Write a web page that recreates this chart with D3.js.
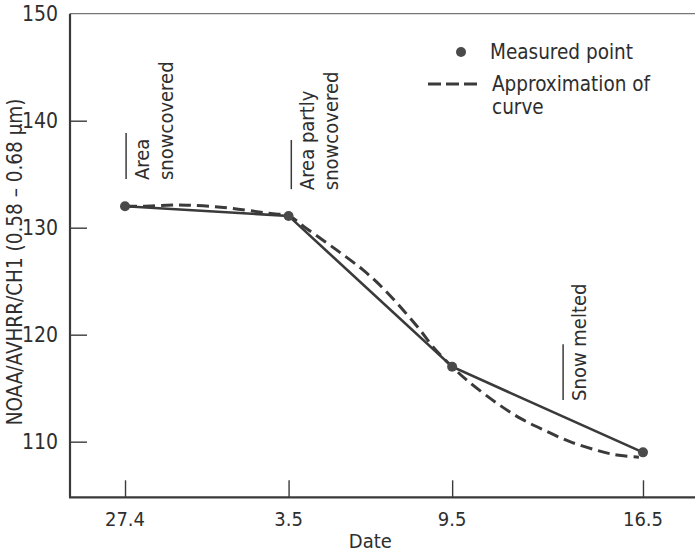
<!DOCTYPE html>
<html>
<head>
<meta charset="utf-8">
<script src="https://cdn.jsdelivr.net/npm/d3@7"></script>
<style>
  html, body { margin: 0; padding: 0; background: #fff; }
  svg { display: block; }
  text { font-family: "DejaVu Sans Condensed", "DejaVu Sans", sans-serif; fill: #2e2e2e; }
</style>
</head>
<body>
<svg id="chart" width="695" height="552"></svg>
<script>
// Observation dates (days after 27 April) and their axis labels
const dayOffsets = [0, 6, 12, 19];
const dayLabels = ["27.4", "3.5", "9.5", "16.5"];

// Measured NOAA/AVHRR channel 1 values on those dates
const measured = [132.0, 131.1, 117.0, 109.0];

// Fitted approximation curve, sampled along the season
const curveDays = [0, 0.66, 1.54, 2.27, 3.12, 3.96, 4.84, 5.43, 6.0,
                   6.67, 7.77, 8.73, 9.46, 10.2, 10.82, 11.3, 12.0,
                   12.54, 13.64, 14.49, 15.35, 16.32, 17.3, 18.04, 18.85];
const curveValues = [132.0, 132.0, 132.1, 132.1, 132.0, 131.8, 131.5, 131.3, 131.1,
                     129.9, 127.9, 126.05, 124.35, 122.3, 120.45, 118.85, 117.0,
                     115.75, 113.6, 112.2, 111.1, 110.0, 109.2, 108.75, 108.55];

// Y axis ticks
const yTicks = [110, 120, 130, 140, 150];

// Snow-state notes placed along the time axis
const notes = [
  { day: 0.04, top: 138.85, bottom: 134.55, lines: ["Area", "snowcovered"] },
  { day: 6.1, top: 138.2, bottom: 133.6, lines: ["Area partly", "snowcovered"] },
  { day: 16.07, top: 119.1, bottom: 113.9, lines: ["Snow melted"] }
];

const svg = d3.select("#chart");
const ink = "#3a3a3a";
const fs = 20;

const x = d3.scaleLinear().domain([-2.018, 21]).range([70, 697.5]);
const y = d3.scaleLinear().domain([104.8, 150]).range([497.3, 13.7]);

const [x0, x1] = x.range();
const [yBottom, yTop] = y.range();

// Frame: light top rule, heavier left and bottom axes
svg.append("line")
  .attr("x1", x0).attr("x2", x1 + 5)
  .attr("y1", yTop).attr("y2", yTop)
  .attr("stroke", "#777").attr("stroke-width", 1.2);

// Y axis, ticks pointing into the plot
const yAxis = d3.axisRight(y).tickValues(yTicks).tickSize(17).tickFormat("");
const gy = svg.append("g").attr("transform", `translate(${x0},0)`).call(yAxis);
gy.select(".domain").remove();
gy.selectAll(".tick line").attr("stroke", ink).attr("stroke-width", 1.4)
  .filter(d => d === 150).remove();

svg.selectAll(".ylab").data(yTicks).join("text")
  .attr("class", "ylab")
  .attr("x", x0 - 12).attr("y", d => y(d))
  .attr("text-anchor", "end").attr("dominant-baseline", "central")
  .attr("font-size", 21)
  .text(d => d);

// X axis, ticks pointing into the plot
const xAxis = d3.axisTop(x).tickValues(dayOffsets).tickSize(17).tickFormat("");
const gx = svg.append("g").attr("transform", `translate(0,${yBottom})`).call(xAxis);
gx.select(".domain").remove();
gx.selectAll(".tick line").attr("stroke", ink).attr("stroke-width", 1.4);

svg.selectAll(".xlab").data(dayOffsets).join("text")
  .attr("class", "xlab")
  .attr("x", d => x(d)).attr("y", yBottom + 22)
  .attr("text-anchor", "middle").attr("dominant-baseline", "central")
  .attr("font-size", 20)
  .text((d, i) => dayLabels[i]);

svg.append("line")
  .attr("x1", x0).attr("x2", x0).attr("y1", yTop).attr("y2", yBottom)
  .attr("stroke", ink).attr("stroke-width", 2.2);
svg.append("line")
  .attr("x1", x0 - 1).attr("x2", x1 + 5).attr("y1", yBottom).attr("y2", yBottom)
  .attr("stroke", ink).attr("stroke-width", 2.2);

// Axis titles
svg.append("text")
  .attr("x", x(9.0)).attr("y", 541)
  .attr("text-anchor", "middle").attr("dominant-baseline", "central")
  .attr("font-size", fs)
  .text("Date");

svg.append("text")
  .attr("transform", `translate(15,${y(126.8)}) rotate(-90)`)
  .attr("text-anchor", "middle").attr("dominant-baseline", "central")
  .attr("font-size", 20.5)
  .text("NOAA/AVHRR/CH1 (0.58 – 0.68 μm)");

// Straight segments between measured points
const solid = d3.line().x((d, i) => x(dayOffsets[i])).y(d => y(d));
svg.append("path")
  .attr("d", solid(measured))
  .attr("fill", "none").attr("stroke", ink).attr("stroke-width", 2.6);

// Approximation curve
const smooth = d3.line()
  .x((d, i) => x(curveDays[i])).y(d => y(d))
  .curve(d3.curveCatmullRom.alpha(0.5));
svg.append("path")
  .attr("d", smooth(curveValues))
  .attr("fill", "none").attr("stroke", ink).attr("stroke-width", 3)
  .attr("stroke-dasharray", "12,6");

// Measured points
svg.selectAll(".pt").data(measured).join("circle")
  .attr("class", "pt")
  .attr("cx", (d, i) => x(dayOffsets[i])).attr("cy", d => y(d))
  .attr("r", 5).attr("fill", "#4a4a4a");

// Notes: short vertical rule with rotated text beside it
notes.forEach(n => {
  const nx = x(n.day);
  svg.append("line")
    .attr("x1", nx).attr("x2", nx).attr("y1", y(n.top)).attr("y2", y(n.bottom))
    .attr("stroke", ink).attr("stroke-width", 1.5);
  const t = svg.append("text")
    .attr("transform", `translate(${nx + 23},${y(n.bottom) + 1}) rotate(-90)`)
    .attr("font-size", fs);
  n.lines.forEach((s, i) => {
    t.append("tspan").attr("x", 0).attr("y", i * 24).text(s);
  });
});

// Legend
const legend = svg.append("g").attr("transform", "translate(461,52)");
legend.append("circle").attr("r", 5).attr("fill", "#4a4a4a");
legend.append("text").attr("x", 29).attr("y", 0)
  .attr("dominant-baseline", "central").attr("font-size", 20.5)
  .text("Measured point");
legend.append("line")
  .attr("x1", -33).attr("x2", 18).attr("y1", 32).attr("y2", 32)
  .attr("stroke", ink).attr("stroke-width", 3).attr("stroke-dasharray", "13,5");
legend.append("text").attr("x", 31).attr("y", 32)
  .attr("dominant-baseline", "central").attr("font-size", 20.5)
  .text("Approximation of");
legend.append("text").attr("x", 31).attr("y", 55)
  .attr("dominant-baseline", "central").attr("font-size", 20.5)
  .text("curve");
</script>
</body>
</html>
